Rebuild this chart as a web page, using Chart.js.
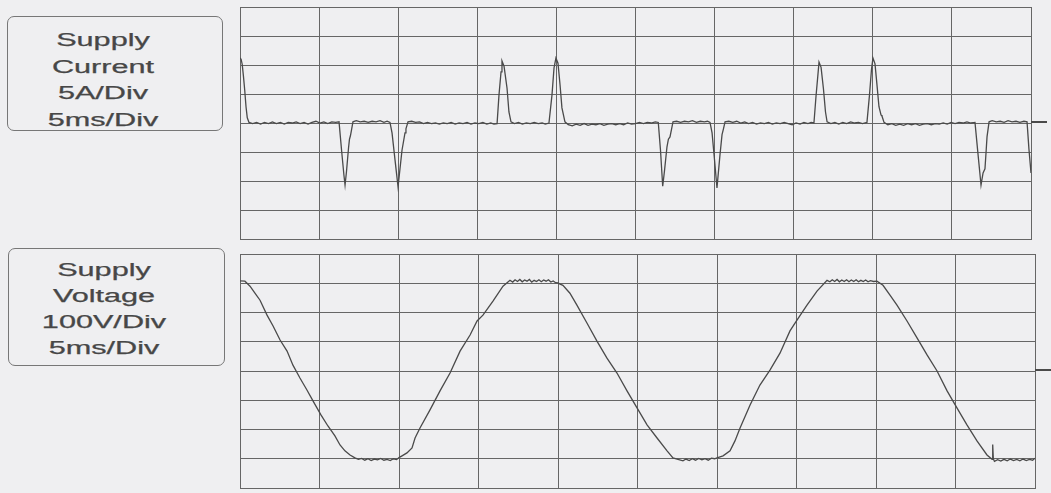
<!DOCTYPE html>
<html>
<head>
<meta charset="utf-8">
<script src="https://cdn.jsdelivr.net/npm/chart.js@4/dist/chart.umd.min.js"></script>
<style>
  html, body { margin: 0; padding: 0; }
  body { width: 1051px; height: 493px; background: #efeff1; position: relative; overflow: hidden;
         font-family: "Liberation Sans", Arial, sans-serif; }
  .box { position: absolute; border: 1px solid #777777; border-radius: 7px; box-sizing: border-box; }
  .label { position: absolute; width: 140px; text-align: center; color: #474747; font-size: 17.5px;
           transform: scaleX(1.75); transform-origin: 50% 50%; white-space: nowrap;
           -webkit-text-stroke: 0.25px #474747; }
  canvas { position: absolute; }
</style>
</head>
<body>
<div class="box" style="left:7px;top:16px;width:216px;height:115px;"></div>
<div class="label" id="lblCurrent" style="left:33px;top:27px;line-height:26.5px;"></div>
<div class="box" style="left:8px;top:248px;width:217px;height:118px;"></div>
<div class="label" id="lblVoltage" style="left:34px;top:257px;line-height:26px;"></div>

<canvas id="cur" width="812" height="236" style="left:238px;top:5px;"></canvas>
<canvas id="volt" width="813" height="238" style="left:238px;top:252px;"></canvas>

<script>
// Panel captions
const currentLabel = ["Supply", "Current", "5A/Div", "5ms/Div"];
const voltageLabel = ["Supply", "Voltage", "100V/Div", "5ms/Div"];

// Time axis: 10 divisions of 5 ms
const timeMin = 0, timeMax = 50, timeStep = 5;
// Current axis: 8 divisions of 5 A
const curMin = -20, curMax = 20, curStep = 5;
// Voltage axis: 8 divisions of 100 V
const voltMin = -400, voltMax = 400, voltStep = 100;

// Supply current trace (ms, A)
const curT = [
  0.00, 0.07, 0.14, 0.22, 0.30, 0.38, 0.46, 0.57,
  0.80, 1.05, 1.30, 1.55, 1.80, 2.05, 2.30, 2.55, 2.80, 3.05, 3.30, 3.55, 3.80, 4.05, 4.30, 4.55, 4.80, 5.05, 5.30, 5.55, 5.80, 6.05, 6.26,
  6.42, 6.57, 6.64, 6.73, 6.86, 6.92, 6.98, 7.05, 7.14,
  7.35, 7.60, 7.85, 8.10, 8.35, 8.60, 8.85, 9.10, 9.30, 9.48,
  9.61, 9.80, 9.99, 10.24, 10.43, 10.49, 10.62,
  10.85, 11.10, 11.35, 11.60, 11.85, 12.10, 12.35, 12.60, 12.85, 13.10, 13.35, 13.60, 13.85, 14.10, 14.35, 14.60, 14.85, 15.10, 15.35, 15.60, 15.85, 16.05, 16.25,
  16.37, 16.50, 16.56, 16.69, 16.88, 17.00, 17.13,
  17.35, 17.60, 17.85, 18.10, 18.35, 18.60, 18.85, 19.10, 19.30, 19.53,
  19.72, 19.85, 19.97, 20.10, 20.23, 20.35, 20.54,
  20.75, 21.00, 21.25, 21.50, 21.75, 22.00, 22.25, 22.50, 22.75, 23.00, 23.25, 23.50, 23.75, 24.00, 24.25, 24.50, 24.75, 25.00, 25.25, 25.50, 25.75, 26.00, 26.25, 26.44,
  26.58, 26.72, 26.83, 26.99, 27.08, 27.18, 27.27, 27.37,
  27.60, 27.85, 28.10, 28.35, 28.60, 28.85, 29.10, 29.35, 29.55, 29.71,
  29.84, 30.00, 30.15, 30.34, 30.47, 30.56, 30.66,
  30.90, 31.15, 31.40, 31.65, 31.90, 32.15, 32.40, 32.65, 32.90, 33.15, 33.40, 33.65, 33.90, 34.15, 34.40, 34.65, 34.90, 35.15, 35.40, 35.65, 35.90, 36.10, 36.28,
  36.41, 36.54, 36.60, 36.73, 36.88, 37.01, 37.11,
  37.35, 37.60, 37.85, 38.10, 38.35, 38.60, 38.85, 39.10, 39.35, 39.63,
  39.79, 39.92, 40.01, 40.14, 40.27, 40.39, 40.52, 40.58, 40.71,
  40.95, 41.20, 41.45, 41.70, 41.95, 42.20, 42.45, 42.70, 42.95, 43.20, 43.45, 43.70, 43.95, 44.20, 44.45, 44.70, 44.95, 45.20, 45.45, 45.70, 45.95, 46.20, 46.46,
  46.62, 46.78, 46.84, 46.97, 47.09, 47.16, 47.22, 47.35,
  47.55, 47.80, 48.05, 48.30, 48.55, 48.80, 49.05, 49.30, 49.55, 49.75,
  49.87, 50.00
];
const curA = [
  11.2, 11.0, 10.1, 8.0, 5.6, 2.8, 0.9, 0.1,
  -0.1, 0.1, -0.2, 0.1, -0.1, 0.2, -0.1, 0.1, -0.2, 0.1, 0.0, 0.2, -0.1, 0.1, -0.2, 0.1, 0.3, 0.0, 0.2, -0.1, 0.2, 0.1, 0.2,
  -4.7, -9.0, -10.7, -8.4, -4.3, -2.8, -2.2, -1.2, 0.2,
  0.4, 0.2, 0.3, 0.1, 0.3, 0.2, 0.4, 0.1, 0.3, 0.1,
  -1.7, -6.4, -11.0, -4.7, -1.7, -1.0, 0.2,
  0.3, 0.1, 0.2, -0.1, 0.1, -0.1, 0.0, -0.2, 0.0, -0.1, 0.1, -0.2, 0.0, -0.1, 0.1, -0.2, 0.0, -0.1, 0.1, -0.2, 0.0, -0.2, -0.1,
  4.8, 8.8, 10.7, 9.8, 6.0, 1.9, 0.2,
  -0.1, 0.1, -0.2, 0.0, -0.1, 0.1, -0.1, 0.0, -0.2, 0.0,
  4.8, 9.5, 11.2, 10.3, 6.6, 2.6, 0.2,
  -0.3, -0.5, -0.2, -0.4, -0.1, -0.4, -0.2, -0.3, -0.1, -0.4, -0.2, -0.1, -0.3, -0.1, -0.3, 0.0, -0.2, -0.1, 0.1, -0.1, 0.1, 0.0, 0.2, 0.1,
  -4.7, -10.9, -8.3, -4.1, -2.8, -2.4, -1.2, 0.2,
  0.3, 0.1, 0.3, 0.2, 0.4, 0.1, 0.3, 0.2, 0.3, 0.1,
  -1.7, -6.5, -11.2, -5.5, -2.0, -1.0, 0.2,
  0.3, 0.1, 0.3, 0.0, 0.2, -0.1, 0.1, -0.2, 0.0, -0.1, 0.1, -0.2, 0.0, -0.1, 0.1, -0.1, -0.3, 0.0, -0.2, 0.1, -0.1, 0.1, 0.0,
  4.6, 8.6, 10.5, 9.6, 5.9, 1.9, 0.2,
  -0.1, 0.1, -0.2, 0.1, -0.1, 0.2, 0.0, 0.1, -0.1, 0.1,
  4.8, 9.3, 11.2, 10.2, 6.4, 2.8, 1.4, 1.2, 0.1,
  -0.3, -0.1, -0.4, -0.2, -0.4, -0.1, -0.3, -0.1, -0.4, -0.2, -0.1, -0.3, -0.1, -0.2, 0.0, -0.2, 0.1, -0.1, 0.1, 0.0, 0.2, 0.0, 0.1,
  -4.5, -9.0, -10.7, -8.6, -7.9, -5.0, -2.4, 0.2,
  0.4, 0.2, 0.3, 0.1, 0.4, 0.2, 0.3, 0.1, 0.3, 0.2,
  -4.5, -8.6
];

// Supply voltage trace (ms, V)
const voltT = [
  0.00, 0.31, 0.63, 0.94, 1.26, 1.70, 2.08, 2.52, 2.96, 3.33, 3.77, 4.21, 4.59, 5.09, 5.53, 5.97, 6.29, 6.60, 6.92, 7.23,
  7.45, 7.65, 7.85, 8.05, 8.25, 8.45, 8.65, 8.85, 9.05, 9.25, 9.45, 9.65, 9.85, 10.00,
  10.19, 10.50, 10.82, 11.01, 11.32, 11.95, 12.58, 13.21, 13.84, 14.47, 14.91, 15.28, 15.91, 16.54, 16.98,
  17.15, 17.30, 17.45, 17.60, 17.75, 17.90, 18.05, 18.20, 18.35, 18.50, 18.65, 18.80, 18.95, 19.10, 19.25, 19.40, 19.55, 19.70, 19.85, 20.00,
  20.13, 20.31, 20.75, 21.19, 21.82, 22.45, 23.08, 23.71, 24.34, 24.97, 25.60, 26.23, 26.86, 27.23, 27.86,
  28.05, 28.25, 28.45, 28.65, 28.85, 29.05, 29.25, 29.45, 29.65, 29.85, 30.00,
  30.38, 30.82, 31.13, 31.45, 32.08, 32.70, 33.33, 33.96, 34.59, 35.03, 35.66, 36.29, 36.92,
  37.10, 37.25, 37.40, 37.55, 37.70, 37.85, 38.00, 38.15, 38.30, 38.45, 38.60, 38.75, 38.90, 39.05, 39.20, 39.35, 39.50, 39.65, 39.85, 40.06,
  40.44, 40.88, 41.32, 41.95, 42.58, 43.21, 43.84, 44.47, 45.09, 45.72, 46.35, 46.98, 47.30, 47.34, 47.38, 47.45,
  47.65, 47.85, 48.05, 48.25, 48.45, 48.65, 48.85, 49.05, 49.25, 49.45, 49.65, 49.85, 50.00
];
const voltV = [
  308, 307, 290, 266, 242, 191, 154, 106, 68, 20, -24, -65, -102, -150, -188, -222, -253, -273, -287, -297,
  -302, -299, -305, -300, -306, -301, -304, -299, -305, -302, -306, -300, -303, -296,
  -290, -280, -263, -229, -195, -133, -68, -7, 68, 123, 171, 191, 239, 290, 310,
  304, 312, 306, 313, 305, 311, 307, 313, 304, 310, 306, 312, 305, 311, 307, 312, 304, 308, 302, 301,
  297, 293, 266, 225, 164, 102, 44, -7, -68, -126, -184, -229, -273, -297, -307,
  -301, -306, -300, -305, -299, -304, -300, -305, -298, -300, -297,
  -290, -273, -239, -195, -116, -48, 3, 61, 137, 174, 225, 273, 310,
  305, 312, 306, 313, 305, 311, 306, 312, 305, 311, 306, 312, 305, 310, 306, 311, 305, 309, 306, 307,
  293, 259, 225, 171, 113, 55, 0, -68, -126, -184, -239, -287, -302, -251, -300, -309,
  -303, -308, -302, -307, -301, -306, -302, -307, -301, -306, -302, -305, -298
];

const gridColor = '#666666';
const traceColor = '#4a4a4a';

function fillLabel(id, lines) {
  const el = document.getElementById(id);
  lines.forEach(t => { const d = document.createElement('div'); d.textContent = t; el.appendChild(d); });
}
fillLabel('lblCurrent', currentLabel);
fillLabel('lblVoltage', voltageLabel);

// Short ground-level marker drawn to the right of the screen at value 0
const groundMarker = {
  id: 'groundMarker',
  afterDraw(chart) {
    const { ctx, chartArea, scales } = chart;
    const y = Math.round(scales.y.getPixelForValue(0)) - 1;
    ctx.save();
    ctx.strokeStyle = '#4a4a4a';
    ctx.lineWidth = 2;
    ctx.beginPath();
    ctx.moveTo(chartArea.right, y);
    ctx.lineTo(chartArea.right + 16, y);
    ctx.stroke();
    ctx.restore();
  }
};

function scopeChart(canvasId, times, values, yMin, yMax, yStep, padRight) {
  const pts = times.map((t, i) => ({ x: t, y: values[i] }));
  return new Chart(document.getElementById(canvasId), {
    type: 'line',
    data: { datasets: [{ data: pts, borderColor: traceColor, borderWidth: 1.3,
                         pointRadius: 0, tension: 0, fill: false }] },
    options: {
      responsive: false, animation: false, events: [],
      layout: { autoPadding: false, padding: { left: 2, top: 2, bottom: 2, right: padRight } },
      plugins: { legend: { display: false }, tooltip: { enabled: false } },
      scales: {
        x: { type: 'linear', min: timeMin, max: timeMax,
             ticks: { display: false, stepSize: timeStep },
             grid: { color: gridColor, lineWidth: 1, drawTicks: false },
             border: { display: true, color: gridColor, width: 1 } },
        y: { type: 'linear', min: yMin, max: yMax,
             ticks: { display: false, stepSize: yStep },
             grid: { color: gridColor, lineWidth: 1, drawTicks: false },
             border: { display: true, color: gridColor, width: 1 } }
      }
    },
    plugins: [groundMarker]
  });
}

scopeChart('cur', curT, curA, curMin, curMax, curStep, 19);
scopeChart('volt', voltT, voltV, voltMin, voltMax, voltStep, 16);
</script>
</body>
</html>
